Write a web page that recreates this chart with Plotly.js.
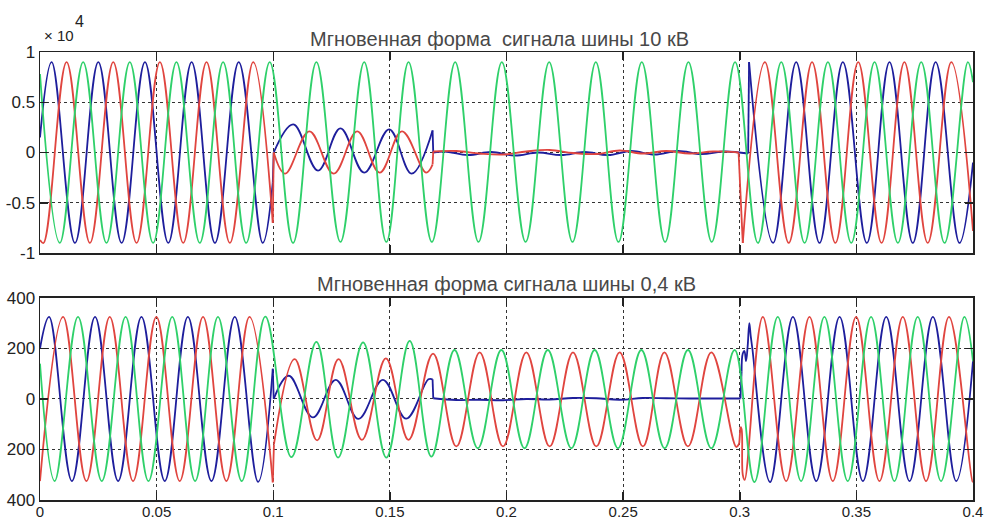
<!DOCTYPE html>
<html><head><meta charset="utf-8">
<script src="https://cdn.plot.ly/plotly-3.0.1.min.js"></script>
<style>html,body{margin:0;padding:0;background:#fff}#chart{width:985px;height:522px}</style>
</head><body><div id="chart"></div>
<script>
// ---- Top panel: 10 kV bus (volts); null = break between regimes ----
const hvBlueT = [0, 0.0050, 0.0150, 0.0250, 0.0350, 0.0450, 0.0550, 0.0650, 0.0750, 0.0852, 0.0955, 0.0998, null,
  0.1002, 0.1086, 0.1192, 0.1288, 0.1390, 0.1497, 0.1593, 0.1683, null,
  0.1686, 0.1735, 0.1835, 0.1935, 0.2035, 0.2135, 0.2235, 0.2335, 0.2435, 0.2535, 0.2635, 0.2735, 0.2835, 0.2935, 0.3036, null,
  0.3040, 0.3143, 0.3242, 0.3342, 0.3442, 0.3545, 0.3642, 0.3742, 0.3840, 0.3942, 0.4000];
const hvBlueV = [1500, 9000, -9000, 9000, -9000, 9000, -9000, 9000, -9000, 9000, -9000, -3000, null,
  0, 2800, -1800, 2400, -2000, 2300, -2100, 2200, null,
  0, 100, -250, 50, -300, 0, -250, 50, -250, 150, -200, 150, -150, 100, -100, null,
  9000, -9000, 9000, -9000, 9000, -9000, 9000, -9000, 9000, -9000, -1000];

const hvRedT = [0, 0.0015, 0.0114, 0.0214, 0.0314, 0.0414, 0.0514, 0.0614, 0.0714, 0.0814, 0.0914, 0.0998, null,
  0.1002, 0.1051, 0.1155, 0.1259, 0.1360, 0.1456, 0.1552, 0.1655, 0.1683, null,
  0.1686, 0.1785, 0.1885, 0.1985, 0.2085, 0.2185, 0.2285, 0.2385, 0.2485, 0.2585, 0.2685, 0.2785, 0.2885, 0.2995, null,
  0.3013, 0.3108, 0.3210, 0.3310, 0.3410, 0.3508, 0.3608, 0.3706, 0.3806, 0.3907, 0.4000];
const hvRedV = [-8700, -9000, 9000, -9000, 9000, -9000, 9000, -9000, 9000, -9000, 9000, -7000, null,
  0, -2100, 2100, -2100, 2100, -2000, 2100, -2000, -1200, null,
  100, 150, -100, -200, 100, 250, -50, -150, 200, -100, 150, -100, 100, 0, null,
  -9000, 9000, -9000, 9000, -9000, 9000, -9000, 9000, -9000, 9000, -7800];

const hvGreenT = [0, 0.0085, 0.0185, 0.0285, 0.0385, 0.0485, 0.0585, 0.0685, 0.0785, 0.0884, 0.0985,
  0.1085, 0.1185, 0.1288, 0.1390, 0.1485, 0.1580, 0.1680, 0.1780, 0.1880, 0.1980,
  0.2082, 0.2183, 0.2283, 0.2383, 0.2480, 0.2580, 0.2680, 0.2780, 0.2880, 0.2980,
  0.3078, 0.3178, 0.3278, 0.3378, 0.3478, 0.3578, 0.3678, 0.3778, 0.3878, 0.3978, 0.4000];
const hvGreenV = [7800, -9000, 9000, -9000, 9000, -9000, 9000, -9000, 9000, -9000, 9000,
  -9000, 9000, -8900, 9000, -8900, 9000, -8900, 9000, -8900, 9000,
  -8900, 9000, -8900, 9000, -8900, 9000, -8900, 9000, -8900, 9000,
  -9000, 9000, -9000, 9000, -9000, 9000, -9000, 9000, -9000, 9000, 7000];

// ---- Bottom panel: 0.4 kV bus (volts) ----
const lvBlueT = [0, 0.0039, 0.0137, 0.0236, 0.0335, 0.0435, 0.0535, 0.0634, 0.0735, 0.0835, 0.0935, 0.0998, null,
  0.1002, 0.1067, 0.1170, 0.1268, 0.1365, 0.1470, 0.1570, 0.1665, 0.1683, null,
  0.1686, 0.1785, 0.1885, 0.1985, 0.2085, 0.2185, 0.2285, 0.2385, 0.2485, 0.2585, 0.2685, 0.2785, 0.2885, 0.3003, null,
  0.3008, 0.3013, 0.3020, 0.3027, 0.3034, 0.3041, 0.3047, 0.3054, 0.3130, 0.3228, 0.3328, 0.3428, 0.3528, 0.3628, 0.3728, 0.3828, 0.3928, 0.4000];
const lvBlueV = [200, 325, -325, 325, -325, 325, -325, 325, -325, 325, -328, 120, null,
  0, 92, -73, 76, -79, 76, -78, 78, 78, null,
  3, -4, -3, -5, 0, -2, 4, 3, -3, 4, 3, 2, 2, 2, null,
  110, 180, 190, 150, 210, 300, 250, 200, -329, 325, -325, 325, -325, 325, -325, 325, -325, 150];

const lvRedT = [0, 0.0099, 0.0199, 0.0299, 0.0399, 0.0499, 0.0599, 0.0699, 0.0799, 0.0898, 0.0998, null,
  0.1003, 0.1092, 0.1188, 0.1280, 0.1380, 0.1483, 0.1580, 0.1685, 0.1785, 0.1885, 0.1985, 0.2085, 0.2185,
  0.2285, 0.2385, 0.2485, 0.2585, 0.2677, 0.2778, 0.2878, 0.2985, 0.2998, null,
  0.3003, 0.3008, 0.3013, 0.3021, 0.3099, 0.3199, 0.3299, 0.3399, 0.3499, 0.3599, 0.3699, 0.3799, 0.3897, 0.3998, 0.4000];
const lvRedV = [-325, 325, -325, 325, -325, 325, -325, 325, -325, 325, -330, null,
  -180, 158, -164, 158, -162, 161, -162, 180, -188, 185, -188, 185, -188,
  185, -188, 185, -188, 185, -188, 185, -190, -175, null,
  -110, -120, -300, -320, 325, -325, 325, -325, 325, -325, 325, -325, 325, -327, -327];

const lvGreenT = [0, 0.0063, 0.0163, 0.0265, 0.0367, 0.0465, 0.0567, 0.0665, 0.0763, 0.0865, 0.0966,
  0.1078, 0.1185, 0.1278, 0.1385, 0.1485, 0.1585, 0.1678,
  0.1777, 0.1877, 0.1978, 0.2077, 0.2177, 0.2278, 0.2378, 0.2478, 0.2578, 0.2678, 0.2778, 0.2878, 0.2978,
  0.3063, 0.3163, 0.3263, 0.3363, 0.3463, 0.3563, 0.3663, 0.3763, 0.3863, 0.3963, 0.4000];
const lvGreenV = [140, -325, 325, -325, 325, -325, 325, -325, 325, -325, 326,
  -230, 226, -232, 224, -232, 230, -228,
  194, -195, 194, -195, 194, -195, 194, -195, 194, -195, 194, -195, 194,
  -329, 325, -325, 325, -325, 325, -325, 325, -325, 325, 150];

// ---- Axis ticks ----
const xTickVals = [0, 0.05, 0.1, 0.15, 0.2, 0.25, 0.3, 0.35, 0.4];
const xTickText = ['0', '0.05', '0.1', '0.15', '0.2', '0.25', '0.3', '0.35', '0.4'];
const hvTickVals = [-10000, -5000, 0, 5000, 10000];
const hvTickText = ['-1', '-0.5', '0', '0.5', '1'];
const lvTickVals = [-400, -200, 0, 200, 400];
const lvTickText = ['400', '200', '0', '200', '400'];

const titleHV = 'Мгновенная форма \u00a0сигнала шины 10 кВ';
const titleLV = 'Мгновенная форма сигнала шины 0,4 кВ';

const COL = {blue: '#1e1e9c', red: '#e0453f', green: '#2fd06a'};
const FONT = 'Liberation Sans, Arial, Helvetica, sans-serif';

function wave(t, v, color, xa, ya) {
  const main = {x: t, y: v, type: 'scatter', mode: 'lines', connectgaps: false,
    line: {color: color, width: 1.8, shape: 'spline', smoothing: 1.09},
    xaxis: xa, yaxis: ya, hoverinfo: 'skip', showlegend: false};
  const cx = [], cy = [];
  for (let i = 1; i < v.length - 1; i++) {
    if (v[i] === null) { cx.push(t[i - 1], t[i + 1], null); cy.push(v[i - 1], v[i + 1], null); }
  }
  const conn = {x: cx, y: cy, type: 'scatter', mode: 'lines', connectgaps: false,
    line: {color: color, width: 1.8}, xaxis: xa, yaxis: ya, hoverinfo: 'skip', showlegend: false};
  return [main, conn];
}

const data = [].concat(
  wave(hvBlueT, hvBlueV, COL.blue, 'x', 'y'),
  wave(hvRedT, hvRedV, COL.red, 'x', 'y'),
  wave(hvGreenT, hvGreenV, COL.green, 'x', 'y'),
  wave(lvBlueT, lvBlueV, COL.blue, 'x2', 'y2'),
  wave(lvRedT, lvRedV, COL.red, 'x2', 'y2'),
  wave(lvGreenT, lvGreenV, COL.green, 'x2', 'y2')
);

const ax = {showline: true, linecolor: '#222', linewidth: 1.5, mirror: 'ticks', ticks: 'inside', ticklen: 8,
  tickwidth: 1.5, tickcolor: '#222', showgrid: true, gridcolor: '#333', griddash: 'dot', gridwidth: 1,
  zeroline: false, fixedrange: true, automargin: false, tickfont: {family: FONT, size: 17, color: '#222'}};

const layout = {
  width: 985, height: 522, margin: {l: 40, r: 12, t: 52, b: 22},
  paper_bgcolor: '#fff', plot_bgcolor: '#fff', showlegend: false,
  font: {family: FONT},
  xaxis: Object.assign({}, ax, {domain: [0, 1], anchor: 'y', range: [0, 0.4], tickvals: xTickVals, ticktext: xTickText, showticklabels: false}),
  yaxis: Object.assign({}, ax, {domain: [0.5513, 1], anchor: 'x', range: [-10000, 10000], tickvals: hvTickVals, ticktext: hvTickText}),
  xaxis2: Object.assign({}, ax, {domain: [0, 1], anchor: 'y2', range: [0, 0.4], tickvals: xTickVals, ticktext: xTickText,
    ticklabelstandoff: -3, tickfont: {family: FONT, size: 15, color: '#222'}}),
  yaxis2: Object.assign({}, ax, {domain: [0, 0.4509], anchor: 'x2', range: [-400, 400], tickvals: lvTickVals, ticktext: lvTickText}),
  annotations: [
    {text: titleHV, xref: 'paper', yref: 'paper', x: 0.493, y: 1.029, xanchor: 'center', yanchor: 'middle', showarrow: false,
     font: {family: FONT, size: 20, color: '#484848'}},
    {text: titleLV, xref: 'paper', yref: 'paper', x: 0.5, y: 0.482, xanchor: 'center', yanchor: 'middle', showarrow: false,
     font: {family: FONT, size: 20, color: '#484848'}},
    {text: '× 10', xref: 'paper', yref: 'paper', x: 0.002, y: 1.036, xanchor: 'left', yanchor: 'middle', showarrow: false,
     font: {family: FONT, size: 15, color: '#222'}},
    {text: '4', xref: 'paper', yref: 'paper', x: 0.0354, y: 1.069, xanchor: 'left', yanchor: 'middle', showarrow: false,
     font: {family: FONT, size: 16, color: '#222'}}
  ]
};

Plotly.newPlot('chart', data, layout, {staticPlot: true, displayModeBar: false});
</script>
</body></html>
